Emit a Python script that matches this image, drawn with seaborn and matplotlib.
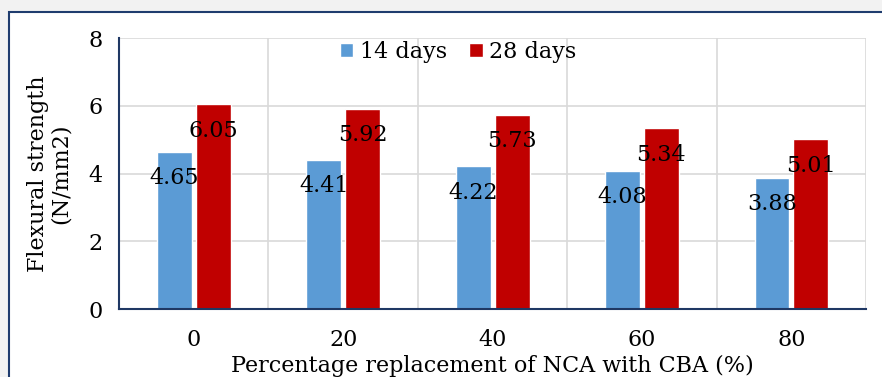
import matplotlib
matplotlib.use("Agg")
import matplotlib.pyplot as plt
import seaborn as sns
import pandas as pd
from matplotlib.patches import Rectangle

categories = ["0", "20", "40", "60", "80"]
days14 = [4.65, 4.41, 4.22, 4.08, 3.88]
days28 = [6.05, 5.92, 5.73, 5.34, 5.01]
series_names = ["14 days", "28 days"]
yticks = [0, 2, 4, 6, 8]

df = pd.DataFrame({
    "cat": categories * 2,
    "val": days14 + days28,
    "series": [series_names[0]] * 5 + [series_names[1]] * 5,
})

sns.set_style("white")
plt.rcParams['font.family'] = ['DejaVu Serif', 'Liberation Serif']
plt.rcParams['text.color'] = 'black'
plt.rcParams['axes.labelcolor'] = 'black'

fig = plt.figure(figsize=(8.82, 3.77), dpi=100)
ax = fig.add_axes([0.135, 0.180, 0.847, 0.719])

sns.barplot(data=df, x="cat", y="val", hue="series", order=categories,
            hue_order=series_names, palette=["#5B9BD5", "#C00000"],
            width=0.52, gap=0.1, ax=ax, saturation=1, errorbar=None)

ax.set_ylim(0, 8)
ax.set_xlim(-0.5, 4.5)
ax.set_yticks(yticks)
ax.set_yticklabels([str(t) for t in yticks])
ax.set_axisbelow(True)
ax.yaxis.grid(True, color="#d9d9d9", lw=1.2)
for b in [0.5, 1.5, 2.5, 3.5, 4.5]:
    ax.axvline(b, color="#d9d9d9", lw=1.2, zorder=0)

for s in ["top", "right"]:
    ax.spines[s].set_visible(False)
for s in ["left", "bottom"]:
    ax.spines[s].set_color("#1F3864")
    ax.spines[s].set_linewidth(1.5)

ax.tick_params(axis="both", length=0, labelsize=16, colors="black")
ax.tick_params(axis="x", pad=14)
ax.tick_params(axis="y", pad=12)

for cont in ax.containers:
    ax.bar_label(cont, labels=[f"{v:.2f}" for v in cont.datavalues],
                 padding=-27, fontsize=16, color="black")

ax.set_xlabel("Percentage replacement of NCA with CBA (%)", fontsize=16, labelpad=3, color="black")
ax.set_ylabel("Flexural strength\n(N/mm2)", fontsize=16, labelpad=12, linespacing=1.05, color="black")

leg = ax.legend(loc="center", bbox_to_anchor=(0.454, 0.948), ncol=2, frameon=False,
                fontsize=16, handlelength=0.6, handleheight=0.6, handletextpad=0.3,
                columnspacing=1.0, borderaxespad=0)
for t in leg.get_texts():
    t.set_color("black")

fig.patches.append(Rectangle((9 / 882, -0.05), 1.0, 1 - 12 / 377 + 0.05,
                             transform=fig.transFigure, fill=False,
                             edgecolor="#1F3C6E", lw=1.5, zorder=10))
fig.patches.append(Rectangle((0, 1 - 12 / 377), 1.0, 12 / 377,
                             transform=fig.transFigure, facecolor="#f2f2f2",
                             edgecolor="none", zorder=0))
fig.patches.append(Rectangle((0, 0), 9 / 882, 1.0,
                             transform=fig.transFigure, facecolor="#f2f2f2",
                             edgecolor="none", zorder=0))

fig.savefig("out.png", dpi=100)
